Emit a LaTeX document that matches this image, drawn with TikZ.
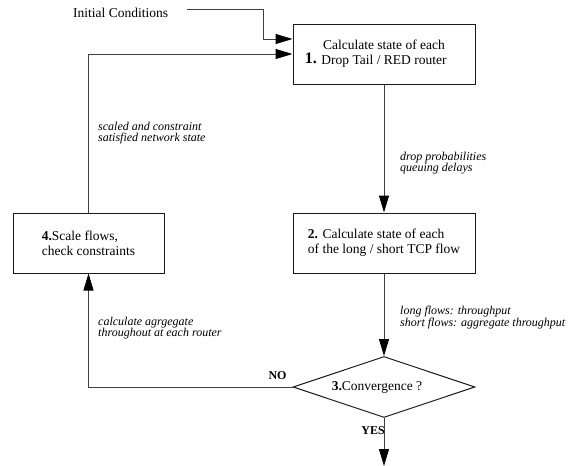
\documentclass[tikz,border=0pt]{standalone}
\usepackage{fontspec}
\setmainfont{Liberation Serif}
\usetikzlibrary{arrows.meta,shapes.geometric}

\tikzset{
  stepbox/.style={draw=black!90, line width=1pt, minimum width=182pt, minimum height=60pt, inner sep=0pt, font=\fontsize{13.5}{15}\selectfont},
  decision/.style={draw=black!90, line width=1pt, diamond, shape aspect=3, minimum width=182pt, minimum height=61pt, inner sep=0pt},
  flow/.style={draw=black!75, line width=1pt, -{Triangle[length=17pt,width=10pt,color=black]}},
  note/.style={font=\fontsize{12}{11}\selectfont\itshape, align=left, anchor=west, inner sep=0pt},
  maintext/.style={font=\fontsize{13.5}{15}\selectfont, inner sep=0pt},
  answer/.style={font=\fontsize{12}{12}\selectfont\bfseries, inner sep=0pt}
}

\begin{document}
\begin{tikzpicture}[x=1pt, y=-1pt]
\useasboundingbox (0,0) rectangle (574,466);

% the four steps
\node[stepbox, align=center] (calcrouter) at (384,54) {Calculate state of each\\Drop Tail / RED router};
\node[maintext, anchor=base east, font=\fontsize{16}{16}\selectfont\bfseries] (num1) at (317,63) {1.};
\node[stepbox, align=left] (calcflow) at (384,243) {\textbf{2.} Calculate state of each\\of the long / short TCP flow};
\node[decision] (converge) at (384,387) {};
\node[maintext] (convtext) at (377,387) {\textbf{3.}Convergence ?};
\node[stepbox, align=left, minimum width=151pt] (scaleflows) at (88.5,243) {\textbf{4.}Scale flows,\\check constraints};

\node[maintext, anchor=west] (initcond) at (73,13) {Initial Conditions};
\coordinate (initbend) at (263,39);
\coordinate (exitpt) at (384,466);

% connectors
\draw[flow] ([xshift=19pt,yshift=4pt]initcond.east) -| (initbend) -- (initbend -| calcrouter.west);
\draw[flow] (scaleflows.north) |- (calcrouter.west);
\draw[flow] (calcrouter) -- (calcflow);
\draw[flow] (calcflow) -- (converge);
\draw[flow] (converge) -- (exitpt);
\draw[flow] (converge.west) -| (scaleflows.south);

% labels on the connectors
\node[note] (statelabel) at (98,133) {scaled and constraint\\satisfied network state};
\node[note] (droplabel) at (400,163) {drop probabilities\\queuing delays};
\node[note] (tputlabel) at (400,318) {long flows: throughput\\short flows: aggregate throughput};
\node[note] (aggrlabel) at (98,328) {calculate agrgegate\\throughout at each router};
\node[answer] (nolabel) at (277.5,376) {NO};
\node[answer, anchor=east] (yeslabel) at (385,431) {YES};
\end{tikzpicture}
\end{document}
